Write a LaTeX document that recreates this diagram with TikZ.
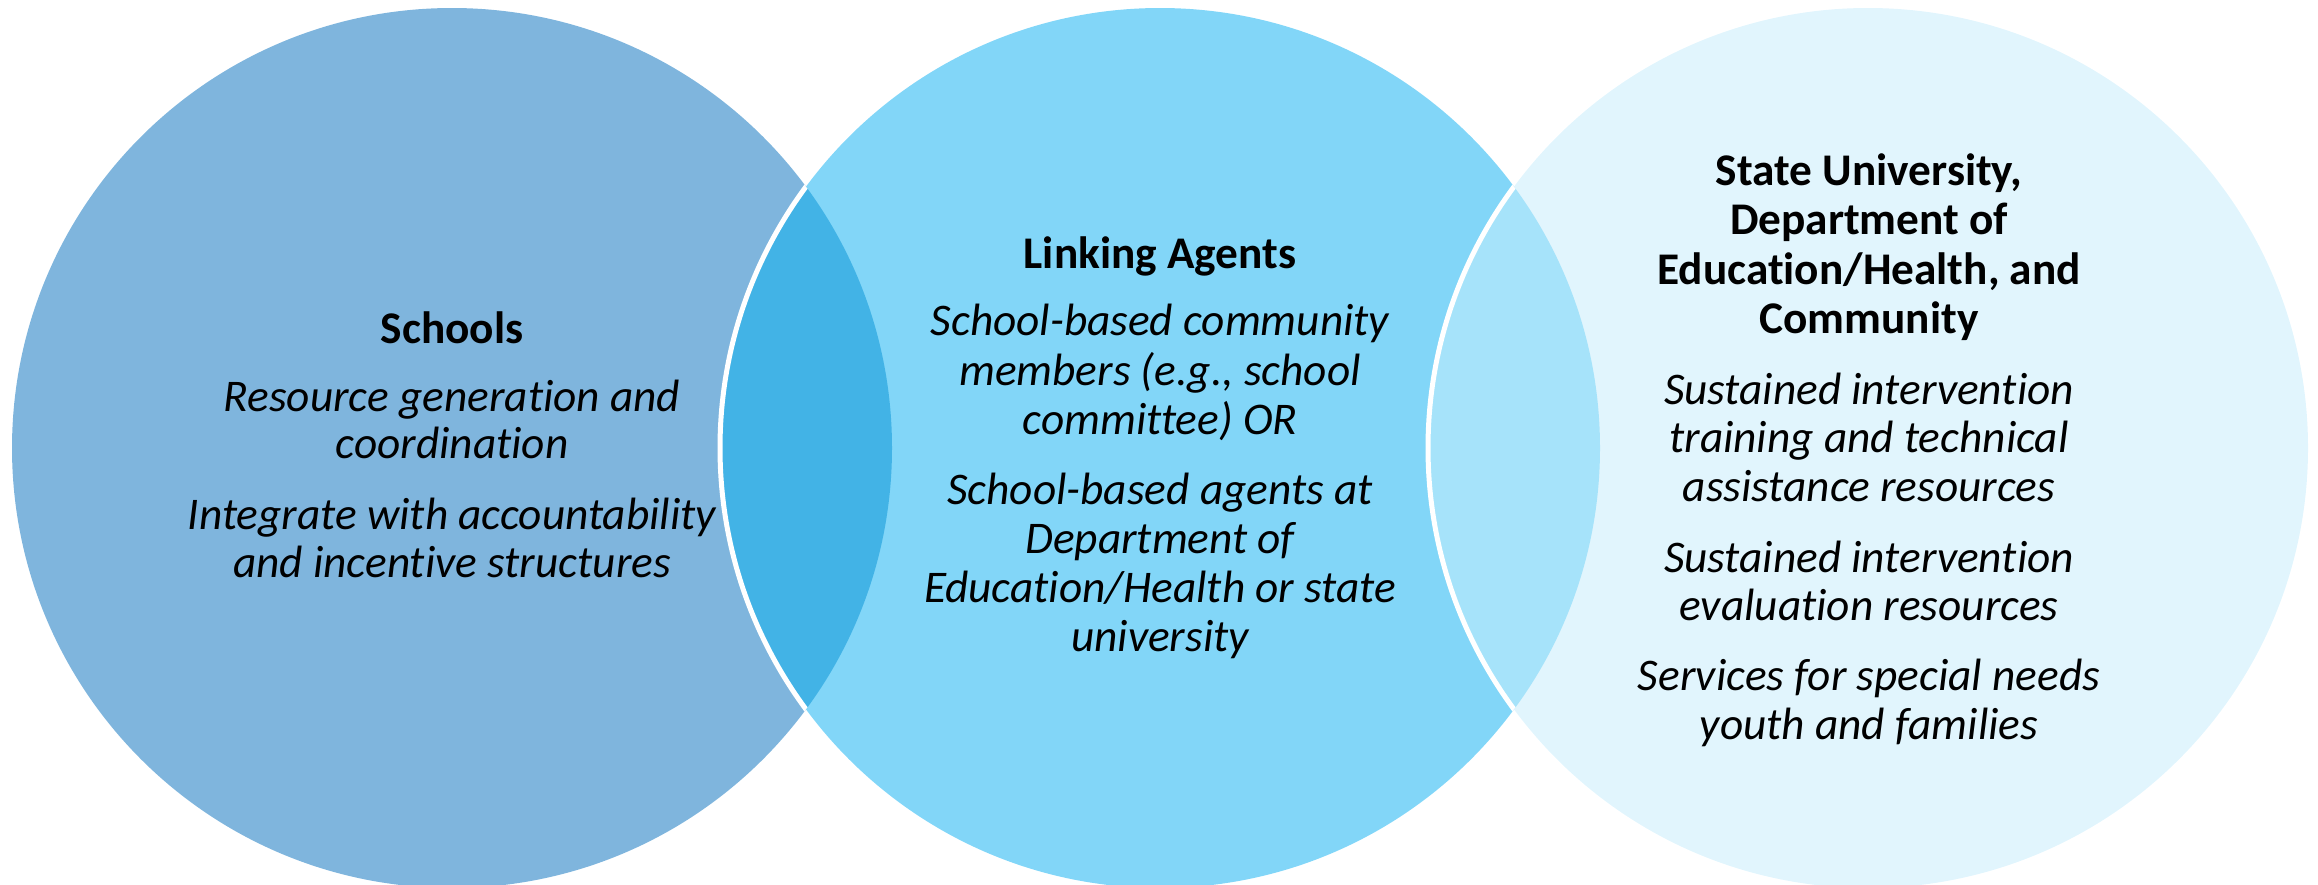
\documentclass[tikz,border=0pt]{standalone}
\usepackage{fontspec}
\setmainfont{Carlito}[Ligatures=NoCommon]
\definecolor{cleft}{HTML}{7FB5DD}
\definecolor{cmid}{HTML}{82D6F8}
\definecolor{cright}{HTML}{E1F5FD}
\definecolor{lensA}{HTML}{42B3E6}
\definecolor{lensB}{HTML}{A6E3FA}
\tikzset{
  txt/.style={anchor=base, inner sep=0pt, font=\fontsize{45.3pt}{48pt}\selectfont\itshape},
  head/.style={anchor=base, inner sep=0pt, font=\fontsize{45.3pt}{48pt}\selectfont\bfseries},
  sep/.style={white, line width=5pt}
}
\begin{document}
\begin{tikzpicture}[x=1pt,y=-1pt]
\useasboundingbox (0,0) rectangle (2318,884);
\clip (0,0) rectangle (2318,884);
\coordinate (cL) at (452,448);
\coordinate (cM) at (1160,448);
\coordinate (cR) at (1868,448);
% circles
\fill[cleft] (cL) circle[radius=440pt];
\fill[cmid] (cM) circle[radius=440pt];
\fill[cright] (cR) circle[radius=440pt];
% lenses
\begin{scope}
  \clip (cL) circle[radius=440pt];
  \fill[lensA] (cM) circle[radius=440pt];
  \draw[sep] (cM) circle[radius=440pt];
\end{scope}
\begin{scope}
  \clip (cM) circle[radius=440pt];
  \fill[lensB] (cR) circle[radius=440pt];
  \draw[sep] (cR) circle[radius=440pt];
\end{scope}
% left texts
\node[head] (l0) at (452,343) {Schools};
\node[txt] (l1) at (452,411) {Resource generation and};
\node[txt] (l2) at (452,458) {coordination};
\node[txt] (l3) at (452,529) {Integrate with accountability};
\node[txt] (l4) at (452,577) {and incentive structures};
% middle texts
\node[head] (m0) at (1160,268) {Linking Agents};
\node[txt] (m1) at (1160,335) {School-based community};
\node[txt] (m2) at (1160,385) {members (e.g., school};
\node[txt] (m3) at (1160,434) {committee) OR};
\node[txt] (m4) at (1160,504) {School-based agents at};
\node[txt] (m5) at (1160,553) {Department of};
\node[txt] (m6) at (1160,602) {Education/Health or state};
\node[txt] (m7) at (1160,651) {university};
% right texts
\node[head] (r0) at (1869,185) {State University,};
\node[head] (r1) at (1869,234) {Department of};
\node[head] (r2) at (1869,284) {Education/Health, and};
\node[head] (r3) at (1869,333) {Community};
\node[txt] (r4) at (1869,404) {Sustained intervention};
\node[txt] (r5) at (1869,452) {training and technical};
\node[txt] (r6) at (1869,501) {assistance resources};
\node[txt] (r7) at (1869,572) {Sustained intervention};
\node[txt] (r8) at (1869,620) {evaluation resources};
\node[txt] (r9) at (1869,690) {Services for special needs};
\node[txt] (r10) at (1869,739) {youth and families};
\end{tikzpicture}
\end{document}
